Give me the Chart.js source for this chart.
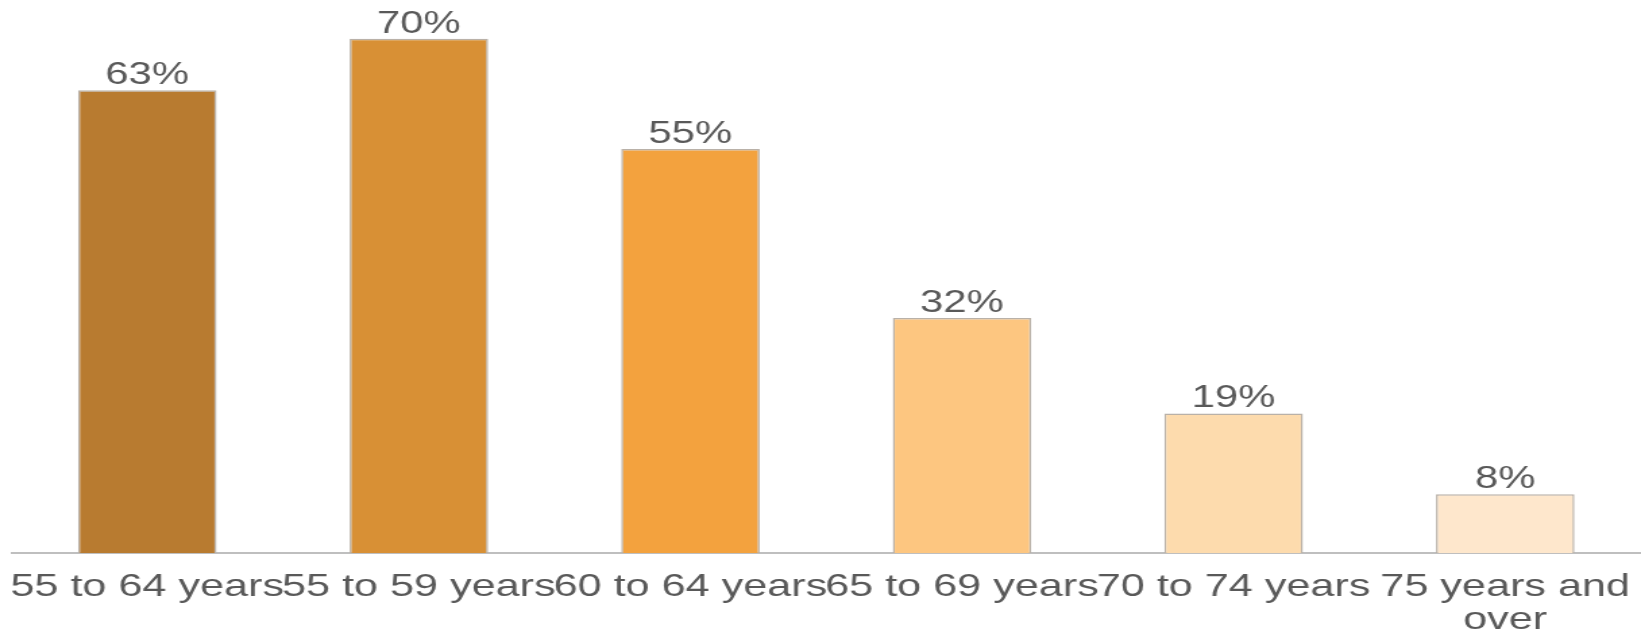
<!DOCTYPE html>
<html>
<head>
<meta charset="utf-8">
<script src="https://cdn.jsdelivr.net/npm/chart.js@4/dist/chart.umd.min.js"></script>
<style>
  html, body { margin: 0; padding: 0; background: #ffffff; overflow: hidden; }
  #wrap { width: 1641px; height: 637px; overflow: hidden; }
  /* the chart is drawn on a narrower canvas and widened, giving the wide lettering */
  #chart { display: block; transform-origin: 0 0; transform: scaleX(1.3495); }
</style>
</head>
<body>
<div id="wrap"><canvas id="chart" width="1216" height="637"></canvas></div>
<script>
// Age groups and share of each group (percent)
const categories = [
  '55 to 64 years',
  '55 to 59 years',
  '60 to 64 years',
  '65 to 69 years',
  '70 to 74 years',
  ['75 years and', 'over']
];
const values = [63, 70, 55, 32, 19, 8];
const barColors = ['#B87B30', '#D89035', '#F3A23E', '#FDC680', '#FDDBAD', '#FEE7CC'];

const textColor = '#595959';

// Percentage labels above each bar, positioned from the bar elements
const valueLabels = {
  id: 'valueLabels',
  afterDatasetsDraw(chart) {
    const ctx = chart.ctx;
    const meta = chart.getDatasetMeta(0);
    ctx.save();
    ctx.font = '31px "Liberation Sans", Arial, sans-serif';
    ctx.fillStyle = textColor;
    ctx.textAlign = 'center';
    ctx.textBaseline = 'alphabetic';
    meta.data.forEach((bar, i) => {
      ctx.fillText(values[i] + '%', bar.x, bar.y - 6);
    });
    ctx.restore();
  }
};

new Chart(document.getElementById('chart'), {
  type: 'bar',
  data: {
    labels: categories,
    datasets: [{
      data: values,
      backgroundColor: barColors,
      borderColor: '#b9b1a8',
      borderWidth: 1.5,
      borderSkipped: 'bottom',
      barPercentage: 0.51,
      categoryPercentage: 1.0
    }]
  },
  options: {
    responsive: false,
    animation: false,
    layout: { padding: { left: 8.5, right: 0, top: 2, bottom: -18 } },
    plugins: {
      legend: { display: false },
      tooltip: { enabled: false },
      title: { display: false }
    },
    scales: {
      x: {
        grid: { display: false, drawTicks: false },
        border: { display: true, color: '#bfbfbf', width: 2 },
        ticks: {
          color: textColor,
          font: { family: '"Liberation Sans", Arial, sans-serif', size: 32, lineHeight: '33px' },
          padding: 18,
          maxRotation: 0,
          minRotation: 0,
          autoSkip: false
        },
        // labels run edge to edge; keep the plot area full width
        afterFit(scale) {
          scale.paddingLeft = 0;
          scale.paddingRight = 0;
        }
      },
      y: {
        display: false,
        min: 0,
        max: 75
      }
    }
  },
  plugins: [valueLabels]
});
</script>
</body>
</html>
